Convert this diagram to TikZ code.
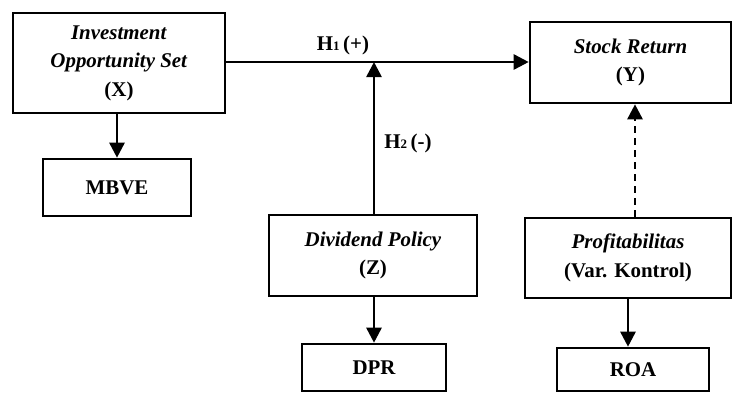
\documentclass[tikz,border=0pt]{standalone}
\usepackage{fontspec}
\setmainfont{Liberation Serif}
\usetikzlibrary{arrows.meta}
\tikzset{
  varbox/.style={draw,line width=2.6bp,align=center,inner sep=0pt,
    font=\fontsize{21}{28.5}\selectfont\bfseries},
  arr/.style={line width=2.6bp,-{Triangle[length=15bp,width=15bp]}},
}
\newcommand{\hyp}[2]{H{\fontsize{13}{13}\selectfont #1}\,(#2)}
\begin{document}
\begin{tikzpicture}[x=1bp,y=-1bp]
    \useasboundingbox (0,0) rectangle (732,392);
    %
    \node[varbox,minimum width=212bp,minimum height=100bp] (ios) at (119,63)
        {\textit{Investment}\\\textit{Opportunity Set}\\(X)};
    \node[varbox,minimum width=148bp,minimum height=57bp] (mbve) at (117,187.5) {MBVE};
    %
    \node[varbox,minimum width=201bp,minimum height=81bp] (ret) at (630.5,62.5)
        {\textit{Stock Return}\\(Y)};
    %
    \node[varbox,minimum width=208bp,minimum height=81bp] (div) at (373,255.5)
        {\textit{Dividend Policy}\\(Z)};
    \node[varbox,minimum width=144bp,minimum height=47bp] (dpr) at (374,367.5) {DPR};
    %
    \node[varbox,minimum width=206bp,minimum height=80bp] (prof) at (628,258)
        {\textit{Profitabilitas}\\(Var. Kontrol)};
    \node[varbox,minimum width=152bp,minimum height=43bp] (roa) at (633,369.5) {ROA};
    %
    \coordinate (jn) at (374,62);
    \coordinate (dashx) at (635,0);
    %
    \draw[arr] (ios.east |- jn) -- (ret.west |- jn);
    \draw[arr] (div.north -| jn) -- (jn);
    \draw[arr,dash pattern=on 7bp off 5bp] (prof.north -| dashx) -- (ret.south -| dashx);
    %
    \draw[arr] (ios.south -| mbve) -- (mbve.north);
    \draw[arr] (div.south -| dpr) -- (dpr.north);
    \draw[arr] (prof.south) -- (prof.south |- roa.north);
    %
    \node[font=\fontsize{21}{21}\selectfont\bfseries] (h1) at (343,45) {\hyp{1}{+}};
    \node[font=\fontsize{21}{21}\selectfont\bfseries] (h2) at (408,143) {\hyp{2}{-}};
\end{tikzpicture}
\end{document}
